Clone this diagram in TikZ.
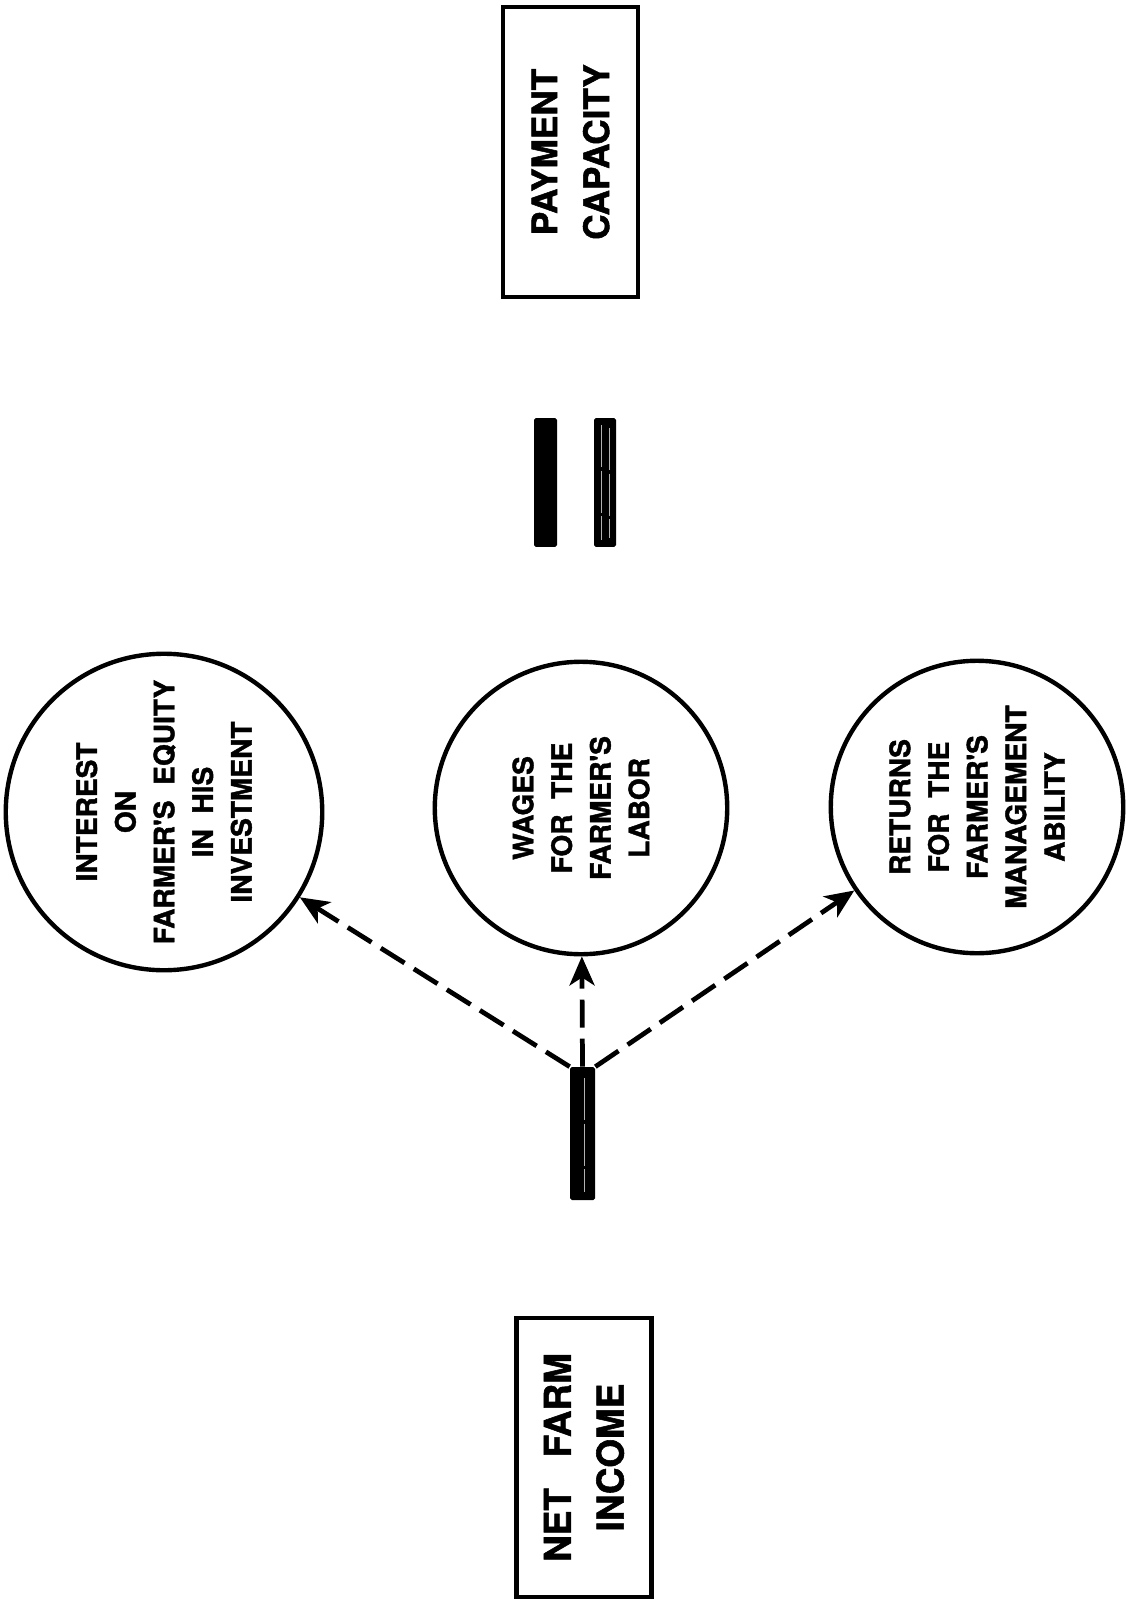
\documentclass[tikz,border=0pt]{standalone}
\usepackage{fontspec}
\usepackage{tikz}
\usetikzlibrary{arrows.meta}
\newfontfamily\heros[BoldFeatures={FakeBold=1.5}]{TeX Gyre Heros}
\tikzset{>={Stealth[length=0.58cm,width=0.5cm,inset=0.16cm]}}

\begin{document}
\begin{tikzpicture}[x=0.02cm, y=-0.02cm,
	box/.style={draw, line width=2.6pt, rotate=90, inner sep=0pt, minimum height=2.7cm, align=center, font=\heros\bfseries\fontsize{20}{29.5}\selectfont},
	circ/.style={draw, circle, line width=2.5pt, rotate=90, minimum size=5.85cm, inner sep=0pt, align=center, font=\heros\bfseries\fontsize{16}{22}\selectfont},
	bar/.style={fill=black, rounded corners=1pt, inner sep=0pt},
	streak/.style={gray!60, line width=0.4pt, dash pattern=on 24pt off 2pt},
	flow/.style={->, line width=2.7pt, dash pattern=on 0.56cm off 0.22cm}]

	\useasboundingbox (0,0) rectangle (1125,1601);

	\node[box, minimum width=5.8cm] (capacity) at (570.5,152) {PAYMENT\\CAPACITY};
	\node[box, minimum width=5.58cm, font=\heros\bfseries\fontsize{21}{30}\selectfont] (income) at (584,1457.5) {NET\ \ \ FARM\\INCOME};

	\node[bar, minimum width=0.46cm, minimum height=2.58cm] (eqleft) at (545.5,482.5) {};
	\node[bar, minimum width=0.44cm, minimum height=2.58cm] (eqright) at (605,482.5) {};
	\draw[streak] (601,425) -- (601,540);
	\draw[streak] (609,428) -- (609,538);

	\node[bar, minimum width=0.5cm, minimum height=2.66cm] (split) at (582.5,1133.5) {};
	\draw[streak] (584,1078) -- (584,1192);

	\node[circ] (interest) at (164,812) {INTEREST\\ON\\FARMER'S\ \ EQUITY\\IN\ \ HIS\\INVESTMENT};
	\node[circ] (wages) at (581,808) {WAGES\\FOR\ \ THE\\FARMER'S\\LABOR};
	\node[circ] (returns) at (977,807) {RETURNS\\FOR\ \ THE\\FARMER'S\\MANAGEMENT\\ABILITY};

	\draw[flow] (split.north west) -- (interest);
	\draw[flow] (split.north) -- (wages);
	\draw[flow] (split.north east) -- (returns);
\end{tikzpicture}
\end{document}
